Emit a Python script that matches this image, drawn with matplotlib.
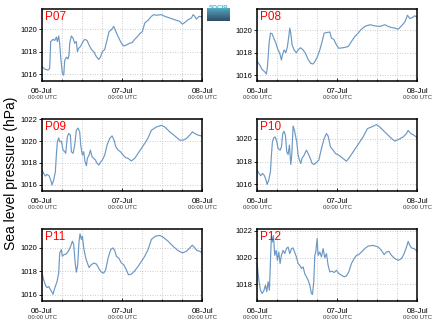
import numpy as np
import matplotlib
matplotlib.use('Agg')
import matplotlib.pyplot as plt

plt.rcParams['font.family'] = ['Liberation Sans', 'DejaVu Sans']

# hours since 06-Jul 00:00 UTC, sea level pressure (hPa)
p07_h = [0, 0.8, 1.8, 2.3, 2.6, 3.3, 3.8, 4.3, 4.6, 5.0, 5.3, 5.6, 6.1, 6.5, 6.8, 7.3,
         7.8, 8.1, 8.3, 8.8, 9.3, 9.8, 10.3, 10.6, 11.0, 11.5, 12.3, 12.8, 13.5, 14.1,
         14.8, 15.5, 16.3, 17.0, 17.5, 18.1, 18.8, 19.5, 20.1, 20.8, 21.5, 22.0, 22.8,
         23.8, 24.5, 25.3, 26.3, 27.0, 27.8, 28.5, 29.3, 30.1, 30.8, 31.8, 32.8, 33.5,
         34.3, 35.8, 36.8, 38.3, 39.8, 41.3, 42.1, 42.8, 43.8, 44.8, 45.3, 45.8, 46.3,
         47.1, 48.0]
p07_v = [1016.65, 1016.45, 1016.35, 1016.5, 1018.9, 1019.1, 1019.0, 1019.3, 1018.9, 1019.4,
         1018.7, 1017.5, 1016.05, 1015.9, 1017.2, 1017.5, 1017.35, 1017.7, 1018.75, 1019.4,
         1019.2, 1018.75, 1018.9, 1018.0, 1018.3, 1018.45, 1018.9, 1019.1, 1019.0, 1018.6,
         1018.2, 1018.0, 1017.55, 1017.3, 1017.5, 1018.0, 1018.2, 1019.05, 1019.8, 1019.95,
         1020.25, 1019.9, 1019.35, 1018.75, 1018.5, 1018.6, 1018.75, 1018.8, 1019.1, 1019.3,
         1019.6, 1019.8, 1020.55, 1020.8, 1021.15, 1021.3, 1021.25, 1021.3, 1021.15, 1021.0,
         1020.85, 1020.7, 1020.45, 1020.6, 1020.85, 1021.0, 1021.3, 1021.15, 1020.9, 1021.15,
         1021.1]

p08_h = [0, 0.8, 1.5, 2.3, 2.8, 3.1, 3.6, 4.0, 4.5, 5.0, 5.6, 6.1, 6.8, 7.3, 7.6, 8.1,
         8.6, 9.1, 9.5, 9.8, 10.1, 10.5, 11.1, 11.8, 12.3, 13.0, 13.8, 14.5, 15.3, 16.1,
         16.8, 17.3, 18.1, 18.8, 19.5, 20.1, 20.8, 21.8, 22.3, 23.0, 23.8, 24.5, 25.8,
         27.3, 28.3, 29.3, 30.3, 31.1, 32.3, 33.8, 35.3, 36.8, 38.3, 39.3, 40.3, 41.3,
         42.3, 43.3, 44.3, 45.1, 45.8, 46.6, 47.3, 48.0]
p08_v = [1017.25, 1016.9, 1016.5, 1016.3, 1016.1, 1016.75, 1018.85, 1019.75, 1019.7, 1019.3,
         1018.9, 1018.4, 1017.95, 1017.35, 1017.8, 1018.25, 1018.0, 1018.55, 1019.45, 1020.2,
         1019.75, 1018.7, 1018.25, 1018.0, 1018.25, 1018.45, 1018.25, 1017.95, 1017.4, 1017.05,
         1017.0, 1017.2, 1017.65, 1018.25, 1019.0, 1019.75, 1019.8, 1019.85, 1019.3, 1019.2,
         1018.7, 1018.4, 1018.45, 1018.55, 1019.0, 1019.45, 1019.75, 1020.05, 1020.35, 1020.5,
         1020.4, 1020.35, 1020.5, 1020.35, 1020.25, 1020.2, 1020.1, 1020.4, 1020.75, 1021.35,
         1021.05, 1021.15, 1021.3, 1021.15]

p09_h = [0, 0.5, 1.0, 1.5, 2.1, 2.6, 3.0, 3.5, 4.0, 4.3, 4.6, 5.0, 5.3, 5.8, 6.3, 6.8,
         7.1, 7.6, 8.0, 8.5, 8.8, 9.3, 9.8, 10.3, 10.8, 11.3, 11.6, 12.1, 12.5, 12.9,
         13.3, 13.6, 14.1, 14.5, 15.0, 15.5, 16.0, 16.5, 17.0, 17.5, 18.1, 18.8, 19.5,
         20.3, 21.0, 21.6, 22.1, 22.8, 23.5, 24.3, 25.1, 25.8, 26.8, 27.8, 28.8, 29.8,
         30.8, 31.8, 32.8, 34.3, 35.8, 36.8, 38.3, 39.8, 41.3, 42.3, 43.3, 44.3, 45.1,
         45.8, 46.8, 48.0]
p09_v = [1017.34, 1017.03, 1016.79, 1016.94, 1016.82, 1016.43, 1015.97, 1016.43, 1017.19,
         1018.72, 1019.94, 1020.3, 1019.94, 1020.0, 1019.18, 1019.03, 1018.88, 1020.4, 1020.7,
         1020.55, 1019.03, 1018.88, 1019.64, 1021.0, 1021.2, 1020.85, 1019.64, 1018.72, 1019.03,
         1018.1, 1017.74, 1018.42, 1018.72, 1019.18, 1018.57, 1018.42, 1018.27, 1017.96, 1017.8,
         1018.05, 1018.27, 1018.72, 1019.64, 1020.24, 1020.48, 1020.09, 1019.49, 1019.18, 1019.03,
         1018.72, 1018.48, 1018.42, 1018.18, 1018.42, 1018.88, 1019.33, 1019.79, 1020.3, 1021.0,
         1021.3, 1021.45, 1021.3, 1020.85, 1020.48, 1020.09, 1020.09, 1020.24, 1020.55, 1020.85,
         1020.7, 1020.55, 1020.46]

p10_h = [0, 0.6, 1.1, 1.6, 2.1, 2.6, 3.0, 3.5, 4.0, 4.3, 4.6, 5.0, 5.4, 5.8, 6.3, 6.9,
         7.3, 7.7, 8.1, 8.5, 8.9, 9.3, 9.7, 10.1, 10.4, 10.8, 11.2, 11.5, 11.9, 12.3, 12.7,
         13.1, 13.5, 14.1, 14.8, 15.3, 16.0, 16.5, 17.1, 17.8, 18.5, 19.3, 20.1, 20.8,
         21.3, 22.0, 22.8, 23.5, 24.5, 25.5, 26.8, 27.8, 28.8, 29.8, 30.8, 31.8, 33.1,
         34.3, 35.8, 36.8, 38.3, 39.8, 41.3, 42.5, 43.8, 44.8, 45.3, 46.1, 47.1, 48.0]
p10_v = [1017.26, 1016.96, 1016.76, 1016.96, 1016.82, 1016.47, 1016.0, 1016.38, 1017.11,
         1018.57, 1019.74, 1020.09, 1020.18, 1019.88, 1019.15, 1019.01, 1019.3, 1020.47, 1020.67,
         1020.32, 1018.86, 1018.63, 1019.45, 1017.75, 1018.57, 1021.14, 1020.76, 1020.32, 1019.74,
         1018.57, 1018.15, 1017.84, 1018.31, 1018.57, 1019.01, 1018.72, 1018.25, 1017.84, 1017.75,
         1017.93, 1018.13, 1019.15, 1020.03, 1020.47, 1020.26, 1019.3, 1019.01, 1018.72, 1018.57,
         1018.34, 1018.04, 1018.42, 1018.86, 1019.3, 1019.74, 1020.18, 1020.91, 1021.05, 1021.26,
         1021.05, 1020.61, 1020.18, 1019.8, 1019.97, 1020.18, 1020.47, 1020.76, 1020.47, 1020.32,
         1020.09]

p11_h = [0, 0.5, 1.0, 1.5, 2.0, 2.4, 2.8, 3.3, 3.8, 4.5, 5.0, 5.3, 5.8, 6.1, 6.6, 7.3,
         8.0, 8.6, 9.1, 9.5, 9.9, 10.3, 10.7, 11.1, 11.4, 11.8, 12.1, 12.5, 13.1, 13.6,
         14.1, 14.8, 15.5, 16.3, 17.1, 17.8, 18.5, 19.1, 19.8, 20.6, 21.3, 21.8, 22.3,
         23.0, 23.8, 24.5, 25.3, 25.9, 26.8, 27.8, 28.8, 29.8, 30.8, 31.8, 32.8, 34.0,
         35.3, 36.3, 37.8, 39.3, 40.8, 42.1, 43.3, 44.3, 45.1, 45.8, 46.5, 47.3, 48.0]
p11_v = [1017.83, 1017.26, 1016.83, 1016.6, 1016.69, 1016.49, 1016.31, 1016.03, 1016.54,
         1017.11, 1017.83, 1019.54, 1019.83, 1019.26, 1019.4, 1019.46, 1019.74, 1020.11, 1020.54,
         1020.26, 1018.83, 1017.91, 1018.54, 1020.54, 1021.17, 1020.69, 1020.97, 1019.97, 1019.11,
         1018.69, 1018.31, 1018.54, 1018.69, 1018.6, 1018.2, 1017.91, 1017.83, 1018.11, 1019.11,
         1019.83, 1019.97, 1019.74, 1019.26, 1019.11, 1018.69, 1018.54, 1018.11, 1017.69, 1017.74,
         1018.03, 1018.4, 1018.83, 1019.26, 1019.83, 1020.69, 1020.97, 1021.03, 1020.89, 1020.54,
         1020.11, 1019.74, 1019.54, 1019.69, 1019.97, 1020.2, 1019.97, 1019.74, 1019.69, 1019.54]

p12_h = [0, 0.3, 0.6, 1.0, 1.5, 2.0, 2.5, 2.9, 3.3, 3.7, 4.0, 4.3, 4.6, 4.9, 5.3, 5.7,
         6.1, 6.5, 6.9, 7.3, 7.8, 8.3, 8.8, 9.3, 9.8, 10.3, 10.8, 11.3, 11.8, 12.3, 12.8,
         13.3, 13.8, 14.3, 14.8, 15.3, 15.8, 16.3, 16.6, 17.0, 17.3, 17.6, 18.0, 18.3,
         18.8, 19.3, 19.8, 20.3, 20.8, 21.3, 21.8, 22.5, 23.1, 23.8, 24.5, 25.3, 26.1,
         26.8, 27.5, 28.3, 29.1, 29.8, 30.5, 31.3, 32.3, 33.3, 34.8, 36.3, 37.3, 38.1,
         38.8, 39.5, 40.3, 41.3, 42.3, 43.3, 44.1, 44.8, 45.3, 45.8, 46.3, 47.1, 48.0]
p12_v = [1019.56, 1018.81, 1018.2, 1017.58, 1017.33, 1017.51, 1017.95, 1017.46, 1018.2,
         1017.58, 1019.68, 1021.65, 1021.16, 1021.65, 1020.17, 1020.54, 1019.8, 1020.42, 1019.56,
         1020.17, 1020.54, 1020.3, 1020.67, 1020.79, 1020.3, 1020.67, 1020.72, 1020.37, 1020.05,
         1019.56, 1019.43, 1019.19, 1019.31, 1018.81, 1018.57, 1018.32, 1017.95, 1017.33, 1017.26,
         1018.2, 1020.17, 1020.42, 1021.41, 1020.17, 1020.42, 1020.05, 1020.67, 1019.98, 1020.3,
         1019.43, 1018.94, 1018.99, 1018.89, 1019.06, 1018.81, 1018.69, 1018.57, 1018.64, 1018.94,
         1019.56, 1019.93, 1020.17, 1020.22, 1020.42, 1020.67, 1020.86, 1020.91, 1020.79, 1020.54,
         1020.22, 1020.42, 1020.47, 1020.17, 1019.93, 1019.8, 1019.93, 1020.3, 1020.79, 1021.21,
         1020.91, 1020.72, 1020.67, 1020.47]

stations = ['P07', 'P08', 'P09', 'P10', 'P11', 'P12']
hours = [p07_h, p08_h, p09_h, p10_h, p11_h, p12_h]
values = [p07_v, p08_v, p09_v, p10_v, p11_v, p12_v]
ylims = [(1015.4, 1021.85), (1015.5, 1021.95), (1015.42, 1022.06),
         (1015.42, 1021.78), (1015.46, 1021.6), (1016.77, 1022.15)]
yticks = [[1016, 1018, 1020], [1016, 1018, 1020], [1016, 1018, 1020, 1022],
          [1016, 1018, 1020], [1016, 1018, 1020], [1018, 1020, 1022]]
day_ticks = [0, 24, 48]
day_labels = ['06-Jul', '07-Jul', '08-Jul']

LINE_COLOR = '#6b98c4'

fig = plt.figure(figsize=(4.35, 3.27), dpi=100)

lefts = [0.0966, 0.591]
bottoms = [0.753, 0.416, 0.0795]
w, h = 0.368, 0.221

for i, name in enumerate(stations):
    row, col = i // 2, i % 2
    ax = fig.add_axes([lefts[col], bottoms[row], w, h])
    ax.plot(hours[i], values[i], color=LINE_COLOR, lw=0.85)
    ax.set_xlim(0, 48)
    ax.set_ylim(*ylims[i])
    ax.set_yticks(yticks[i])
    ax.set_xticks(day_ticks)
    ax.set_xticklabels(day_labels)
    ax.set_xticks(np.arange(0, 49, 6), minor=True)
    ax.grid(True, which='both', axis='x', color='#bbbbbb', ls=(0, (1, 2)), lw=0.6)
    ax.grid(True, which='major', axis='y', color='#bbbbbb', ls=(0, (1, 2)), lw=0.6)
    ax.tick_params(axis='y', labelsize=5.5, length=2, width=0.6, pad=1.5)
    ax.tick_params(axis='x', which='major', labelsize=5.8, length=2, width=0.6,
                   direction='in', pad=5)
    ax.tick_params(axis='x', which='minor', length=1.5, width=0.5, direction='in')
    for sp in ax.spines.values():
        sp.set_linewidth(1.1)
    for t in day_ticks:
        ax.text(t, -0.2, '00:00 UTC', transform=ax.get_xaxis_transform(),
                ha='center', va='top', fontsize=4.3, color='#333333')
    ax.text(0.02, 0.97, name, transform=ax.transAxes, ha='left', va='top',
            fontsize=8.5, color='red')

fig.text(0.025, 0.47, 'Sea level pressure (hPa)', rotation=90,
         ha='center', va='center', fontsize=10)

# small logo in the top centre
logo = fig.add_axes([0.476, 0.935, 0.052, 0.04])
grad = np.linspace(0, 1, 20).reshape(-1, 1)
logo.imshow(grad, cmap=matplotlib.colors.LinearSegmentedColormap.from_list(
    'lg', ['#5aa9c4', '#2f4f66']), aspect='auto')
logo.axis('off')
fig.text(0.502, 0.978, 'SOCIB', ha='center', va='center', fontsize=4.5,
         color='#47b5d6', fontweight='bold')

fig.savefig('out.png', dpi=100)
